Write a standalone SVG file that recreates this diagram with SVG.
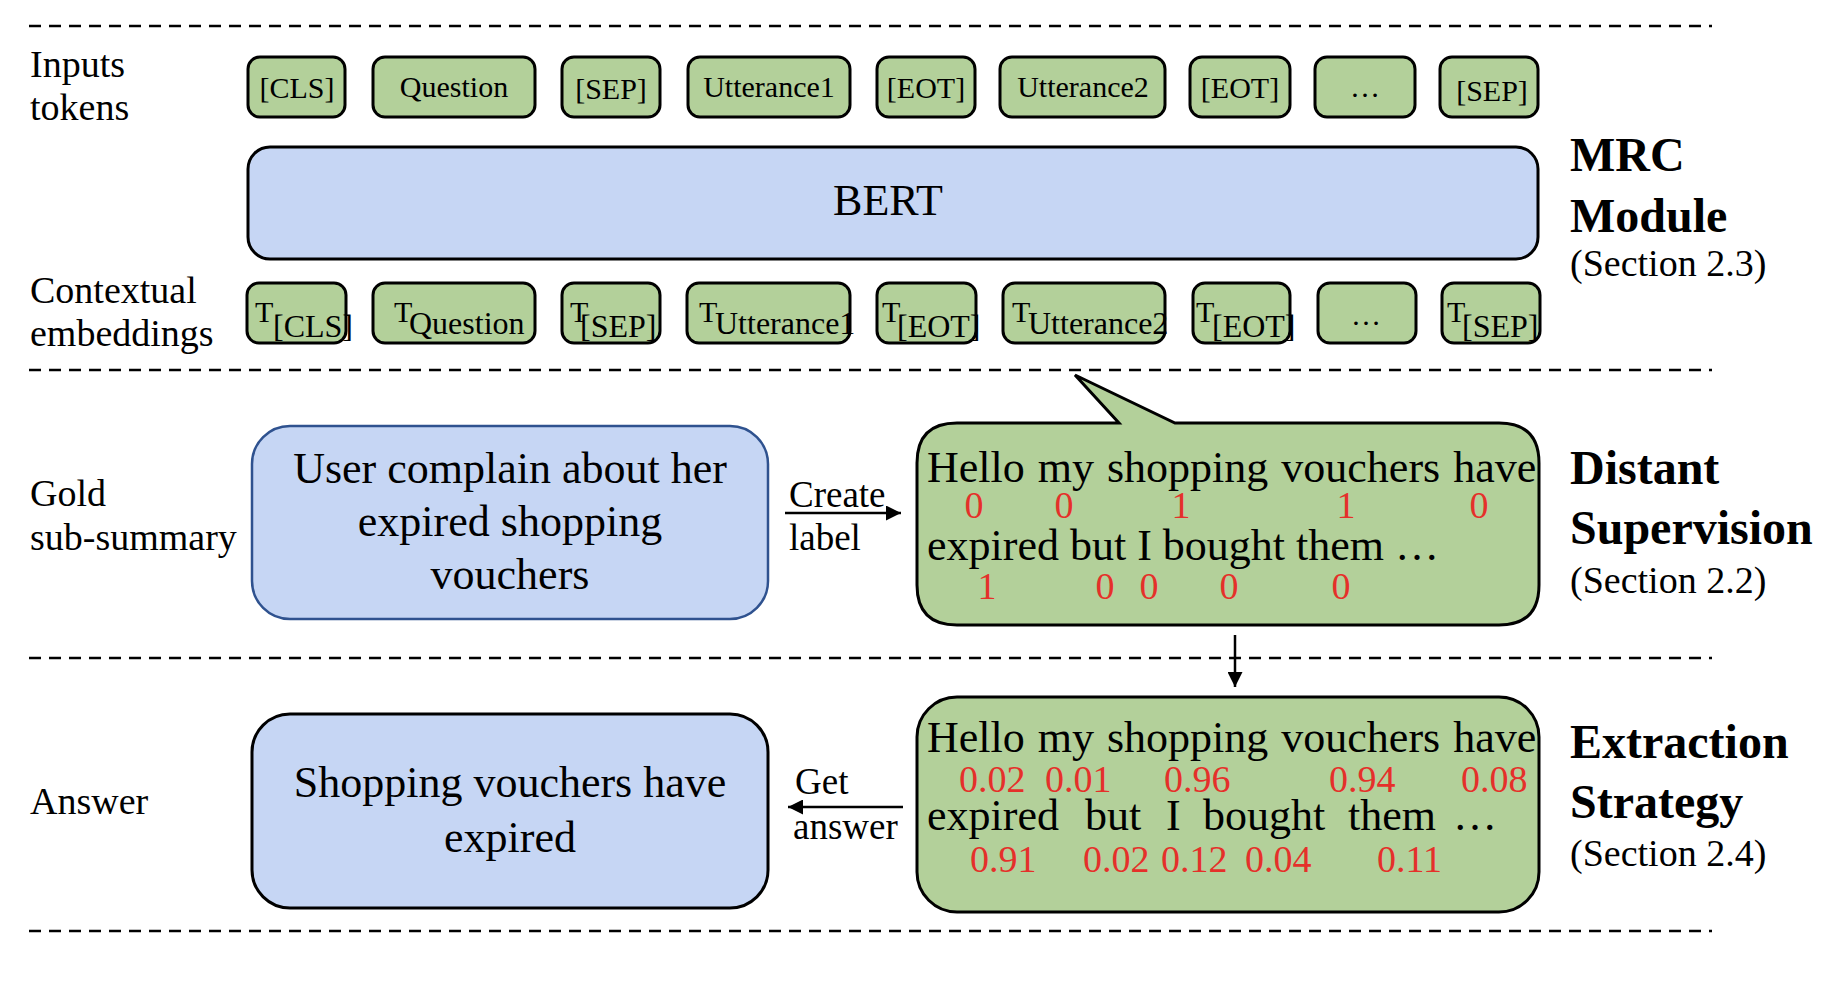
<svg xmlns="http://www.w3.org/2000/svg" width="1828" height="982" viewBox="0 0 1828 982">
<style>
text{font-family:"Liberation Serif","Times New Roman",serif;fill:#000}
.lbl{font-size:38px}
.tok{font-size:30px;text-anchor:middle}
.emb{font-size:30px}
.sub{font-size:32px}
.big{font-size:44px}
.r{font-size:38px;fill:#E5302A}
.bold{font-size:48px;font-weight:bold}
.sec{font-size:38px;font-weight:normal}
.arr{font-size:37px}
.g{fill:#B3D09A;stroke:#000;stroke-width:3}
.b{fill:#C6D6F4;stroke:#000;stroke-width:3}
.dash{stroke:#000;stroke-width:2.5;stroke-dasharray:12 8;fill:none}
.ln{stroke:#000;stroke-width:2.5;fill:none}
.ws{word-spacing:2px}
</style>
<defs>
<marker id="ah" viewBox="0 0 10 10" refX="10" refY="5" markerWidth="6" markerHeight="6" markerUnits="strokeWidth" orient="auto">
<path d="M0,0 L10,5 L0,10 z" fill="#000"/>
</marker>
</defs>

<g id="separators">
<line class="dash" x1="29" y1="26" x2="1712" y2="26"/>
<line class="dash" x1="29" y1="370" x2="1712" y2="370"/>
<line class="dash" x1="29" y1="658" x2="1712" y2="658"/>
<line class="dash" x1="29" y1="931" x2="1712" y2="931"/>
</g>

<g id="row-labels">
<text class="lbl"><tspan x="30" y="77">Inputs</tspan><tspan x="30" y="120">tokens</tspan></text>
<text class="lbl"><tspan x="30" y="303">Contextual</tspan><tspan x="30" y="346">embeddings</tspan></text>
<text class="lbl"><tspan x="30" y="506">Gold</tspan><tspan x="30" y="550">sub-summary</tspan></text>
<text class="lbl" x="30" y="814">Answer</text>
</g>

<g id="input-tokens">
<g id="tok-cls"><rect class="g" x="248" y="57" width="97" height="60" rx="12"/><text class="tok" x="297" y="98">[CLS]</text></g>
<g id="tok-question"><rect class="g" x="373" y="57" width="162" height="60" rx="12"/><text class="tok" x="454" y="97">Question</text></g>
<g id="tok-sep1"><rect class="g" x="562" y="57" width="98" height="60" rx="12"/><text class="tok" x="611" y="99">[SEP]</text></g>
<g id="tok-utt1"><rect class="g" x="688" y="57" width="162" height="60" rx="12"/><text class="tok" x="769" y="97">Utterance1</text></g>
<g id="tok-eot1"><rect class="g" x="877" y="57" width="98" height="60" rx="12"/><text class="tok" x="926" y="98">[EOT]</text></g>
<g id="tok-utt2"><rect class="g" x="1000" y="57" width="165" height="60" rx="12"/><text class="tok" x="1083" y="97">Utterance2</text></g>
<g id="tok-eot2"><rect class="g" x="1190" y="57" width="100" height="60" rx="12"/><text class="tok" x="1240" y="98">[EOT]</text></g>
<g id="tok-dots"><rect class="g" x="1315" y="57" width="100" height="60" rx="12"/><text class="tok" x="1365" y="97">…</text></g>
<g id="tok-sep2"><rect class="g" x="1440" y="57" width="98" height="60" rx="12"/><text class="tok" x="1492" y="101">[SEP]</text></g>
</g>

<g id="bert">
<rect class="b" x="248" y="147" width="1290" height="112" rx="22"/>
<text class="big" x="888" y="215" text-anchor="middle">BERT</text>
</g>

<g id="embeddings">
<g id="emb-cls"><rect class="g" x="247" y="283" width="99" height="60" rx="12"/><text class="emb" x="255" y="322">T<tspan class="sub" x="273" y="337">[CLS]</tspan></text></g>
<g id="emb-question"><rect class="g" x="373" y="283" width="162" height="60" rx="12"/><text class="emb" x="394" y="322">T<tspan class="sub" x="409" y="334">Question</tspan></text></g>
<g id="emb-sep1"><rect class="g" x="562" y="283" width="98" height="60" rx="12"/><text class="emb" x="570" y="322">T<tspan class="sub" x="580" y="337">[SEP]</tspan></text></g>
<g id="emb-utt1"><rect class="g" x="687" y="283" width="163" height="60" rx="12"/><text class="emb" x="699" y="322">T<tspan class="sub" x="715" y="334">Utterance1</tspan></text></g>
<g id="emb-eot1"><rect class="g" x="877" y="283" width="99" height="60" rx="12"/><text class="emb" x="882" y="322">T<tspan class="sub" x="897" y="337">[EOT]</tspan></text></g>
<g id="emb-utt2"><rect class="g" x="1003" y="283" width="162" height="60" rx="12"/><text class="emb" x="1012" y="322">T<tspan class="sub" x="1028" y="334">Utterance2</tspan></text></g>
<g id="emb-eot2"><rect class="g" x="1193" y="283" width="97" height="60" rx="12"/><text class="emb" x="1196" y="322">T<tspan class="sub" x="1212" y="337">[EOT]</tspan></text></g>
<g id="emb-dots"><rect class="g" x="1318" y="283" width="98" height="60" rx="12"/><text class="tok" x="1366" y="325">…</text></g>
<g id="emb-sep2"><rect class="g" x="1442" y="283" width="98" height="60" rx="12"/><text class="emb" x="1447" y="322">T<tspan class="sub" x="1462" y="337">[SEP]</tspan></text></g>
</g>

<g id="section-labels">
<text class="bold"><tspan x="1570" y="171">MRC</tspan><tspan x="1570" y="232">Module</tspan><tspan class="sec" x="1570" y="276">(Section 2.3)</tspan></text>
<text class="bold"><tspan x="1570" y="484">Distant</tspan><tspan x="1570" y="544">Supervision</tspan><tspan class="sec" x="1570" y="593">(Section 2.2)</tspan></text>
<text class="bold"><tspan x="1570" y="758">Extraction</tspan><tspan x="1570" y="818">Strategy</tspan><tspan class="sec" x="1570" y="866">(Section 2.4)</tspan></text>
</g>

<g id="gold-summary">
<rect x="252" y="426" width="516" height="193" rx="38" fill="#C6D6F4" stroke="#2F528F" stroke-width="2.5"/>
<text class="big" text-anchor="middle"><tspan x="510" y="483">User complain about her</tspan><tspan x="510" y="536">expired shopping</tspan><tspan x="510" y="589">vouchers</tspan></text>
</g>

<g id="labelled-utterance">
<path class="g" d="M1175,423 L1499,423 Q1539,423 1539,463 L1539,585 Q1539,625 1499,625 L957,625 Q917,625 917,585 L917,463 Q917,423 957,423 L1119,423 L1075,375 Z"/>
<text class="big"><tspan class="ws" x="927" y="482">Hello my shopping vouchers have</tspan><tspan class="r" text-anchor="middle" x="974" y="518">0</tspan><tspan class="r" text-anchor="middle" x="1064" y="518">0</tspan><tspan class="r" text-anchor="middle" x="1181" y="518">1</tspan><tspan class="r" text-anchor="middle" x="1346" y="518">1</tspan><tspan class="r" text-anchor="middle" x="1479" y="518">0</tspan><tspan x="927" y="560">expired but I bought them …</tspan><tspan class="r" text-anchor="middle" x="987" y="599">1</tspan><tspan class="r" text-anchor="middle" x="1105" y="599">0</tspan><tspan class="r" text-anchor="middle" x="1149" y="599">0</tspan><tspan class="r" text-anchor="middle" x="1229" y="599">0</tspan><tspan class="r" text-anchor="middle" x="1341" y="599">0</tspan></text>
</g>

<g id="scored-utterance">
<rect class="g" x="917" y="697" width="622" height="215" rx="40"/>
<text class="big"><tspan class="ws" x="927" y="752">Hello my shopping vouchers have</tspan><tspan class="r" x="959" y="792">0.02</tspan><tspan class="r" x="1045" y="792">0.01</tspan><tspan class="r" x="1164" y="792">0.96</tspan><tspan class="r" x="1329" y="792">0.94</tspan><tspan class="r" x="1461" y="792">0.08</tspan><tspan x="927" y="830">expired</tspan><tspan x="1085" y="830">but</tspan><tspan x="1166" y="830">I</tspan><tspan x="1203" y="830">bought</tspan><tspan x="1348" y="830">them</tspan><tspan x="1453" y="830">…</tspan><tspan class="r" x="970" y="872">0.91</tspan><tspan class="r" x="1083" y="872">0.02</tspan><tspan class="r" x="1161" y="872">0.12</tspan><tspan class="r" x="1245" y="872">0.04</tspan><tspan class="r" x="1377" y="872">0.11</tspan></text>
</g>

<g id="answer">
<rect class="b" x="252" y="714" width="516" height="194" rx="38"/>
<text class="big" text-anchor="middle"><tspan x="510" y="797">Shopping vouchers have</tspan><tspan x="510" y="852">expired</tspan></text>
</g>

<g id="connectors">
<line class="ln" x1="785" y1="513" x2="901" y2="513" marker-end="url(#ah)"/>
<text class="arr"><tspan x="789" y="507">Create</tspan><tspan x="789" y="550">label</tspan></text>
<line class="ln" x1="1235" y1="635" x2="1235" y2="687" marker-end="url(#ah)"/>
<line class="ln" x1="903" y1="807" x2="788" y2="807" marker-end="url(#ah)"/>
<text class="arr"><tspan x="795" y="794">Get</tspan><tspan x="793" y="839">answer</tspan></text>
</g>
</svg>
